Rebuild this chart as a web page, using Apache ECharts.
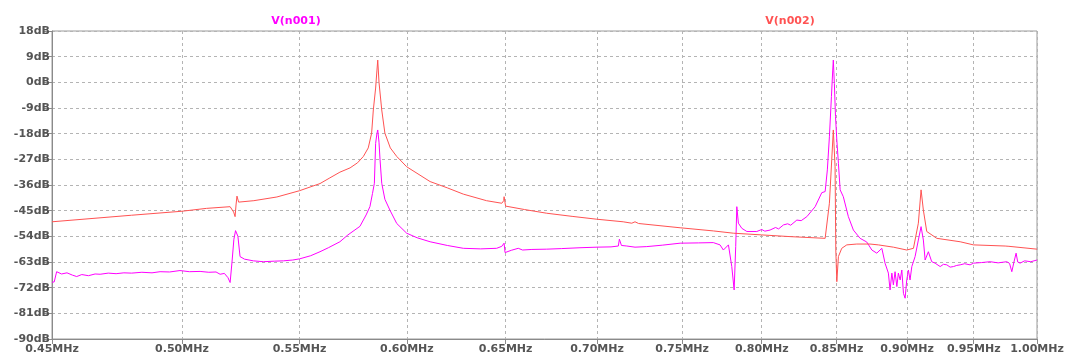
<!DOCTYPE html>
<html>
<head>
<meta charset="utf-8">
<title>V(n001), V(n002)</title>
<script src="https://cdn.jsdelivr.net/npm/echarts@6/dist/echarts.min.js"></script>
<style>
  html, body { margin: 0; padding: 0; background: #fff; }
  #chart { width: 1067px; height: 361px; }
</style>
</head>
<body>
<div id="chart"></div>
<script>
// Frequency ticks (MHz) and magnitude ticks (dB)
const freqTicks = [0.45, 0.50, 0.55, 0.60, 0.65, 0.70, 0.75, 0.80, 0.85, 0.90, 0.95, 1.00];
const dbTicks = [-90, -81, -72, -63, -54, -45, -36, -27, -18, -9, 0, 9, 18];

// V(n001): frequency (MHz) and magnitude (dB)
const n001Freq = [
  0.4500, 0.4508, 0.4517, 0.4535, 0.4555, 0.4575, 0.4591, 0.4610, 0.4635, 0.4660,
  0.4679, 0.4710, 0.4740, 0.4770, 0.4800, 0.4840, 0.4880, 0.4912, 0.4950, 0.4992,
  0.5030, 0.5074, 0.5110, 0.5140, 0.5157, 0.5175, 0.5190, 0.5199, 0.5207, 0.5215,
  0.5222, 0.5227, 0.5232, 0.5241, 0.5260, 0.5298, 0.5341, 0.5390, 0.5428, 0.5470,
  0.5500, 0.5550, 0.5592, 0.5630, 0.5683, 0.5720, 0.5776, 0.5805, 0.5823, 0.5835,
  0.5844, 0.5850, 0.5856, 0.5860, 0.5866, 0.5871, 0.5879, 0.5894, 0.5918, 0.5951,
  0.5999, 0.6050, 0.6114, 0.6200, 0.6281, 0.6370, 0.6453, 0.6480, 0.6492, 0.6497,
  0.6530, 0.6567, 0.6590, 0.6640, 0.6720, 0.6800, 0.6904, 0.7000, 0.7080, 0.7122,
  0.7128, 0.7140, 0.7171, 0.7219, 0.7288, 0.7380, 0.7488, 0.7600, 0.7692, 0.7734,
  0.7755, 0.7787, 0.7808, 0.7823, 0.7833, 0.7840, 0.7850, 0.7872, 0.7904, 0.7968,
  0.8000, 0.8020, 0.8054, 0.8090, 0.8110, 0.8142, 0.8170, 0.8190, 0.8231, 0.8260,
  0.8298, 0.8354, 0.8399, 0.8422, 0.8437, 0.8451, 0.8465,
  0.8474, 0.8478, 0.8485, 0.8493, 0.8502, 0.8513, 0.8525, 0.8547, 0.8582, 0.8617,
  0.8664, 0.8711, 0.8747, 0.8782, 0.8818, 0.8841, 0.8865, 0.8877, 0.8890, 0.8901,
  0.8913, 0.8926, 0.8937, 0.8950, 0.8962, 0.8974, 0.8986, 0.8998, 0.9010, 0.9022,
  0.9035, 0.9059, 0.9083, 0.9103, 0.9120, 0.9133, 0.9157, 0.9182, 0.9207, 0.9245,
  0.9270, 0.9295, 0.9320, 0.9345, 0.9370, 0.9396, 0.9430, 0.9472, 0.9498, 0.9560,
  0.9627, 0.9690, 0.9758, 0.9780, 0.9798, 0.9815, 0.9832, 0.9845, 0.9864, 0.9900,
  0.9950, 1.0000
];
const n001Db = [
  -70.1, -70.0, -66.4, -67.2, -66.8, -67.6, -68.1, -67.4, -67.8, -67.2,
  -67.3, -66.9, -67.1, -66.8, -66.9, -66.6, -66.8, -66.4, -66.5, -66.0,
  -66.4, -66.3, -66.6, -66.5, -67.3, -67.0, -68.5, -70.2, -63.0, -55.0,
  -52.0, -51.8, -54.0, -61.1, -62.0, -62.6, -62.9, -62.7, -62.6, -62.3,
  -61.9, -60.8, -59.4, -58.0, -55.9, -53.5, -50.5, -46.5, -43.6, -39.0,
  -35.4, -21.4, -18.0, -16.7, -21.0, -27.2, -35.4, -41.0, -44.8, -49.5,
  -52.9, -54.5, -55.9, -57.2, -58.2, -58.4, -58.2, -57.5, -56.4, -59.7,
  -58.9, -58.2, -58.8, -58.6, -58.5, -58.3, -58.0, -57.8, -57.7, -57.4,
  -55.0, -57.2, -57.4, -57.8, -57.6, -57.1, -56.4, -56.3, -56.2, -57.0,
  -58.8, -57.0, -64.6, -72.8, -57.6, -43.6, -49.4, -51.2, -52.3, -52.3,
  -51.6, -52.2, -51.8, -50.9, -51.4, -50.0, -49.6, -50.1, -48.3, -48.5,
  -47.1, -43.6, -38.7, -38.3, -30.7, -19.1, -5.0,
  4.3, 7.8, -0.4, -12.0, -20.2, -28.4, -37.7, -40.1, -47.1, -51.8,
  -54.7, -56.0, -58.8, -59.9, -58.2, -63.4, -66.9, -72.8, -66.9, -71.0,
  -66.4, -71.6, -66.9, -69.3, -65.8, -74.0, -75.7, -69.3, -65.8, -69.3,
  -64.6, -61.1, -55.3, -50.6, -55.3, -62.3, -59.4, -62.9, -63.4, -64.6,
  -63.8, -64.0, -64.8, -64.6, -64.2, -64.0, -63.6, -64.0, -63.4, -63.2,
  -62.9, -63.3, -62.9, -63.5, -66.4, -63.0, -59.9, -63.0, -63.4, -62.6,
  -62.9, -62.3
];

// V(n002): frequency (MHz) and magnitude (dB)
const n002Freq = [
  0.4500, 0.4800, 0.5000, 0.5100, 0.5199, 0.5207, 0.5214, 0.5220, 0.5224, 0.5228,
  0.5235, 0.5241, 0.5300, 0.5400, 0.5500, 0.5592, 0.5637, 0.5683, 0.5730, 0.5765,
  0.5792, 0.5815, 0.5831, 0.5839, 0.5850, 0.5856, 0.5860, 0.5866, 0.5879, 0.5894,
  0.5920, 0.5951, 0.5999, 0.6114, 0.6200, 0.6281, 0.6400, 0.6480, 0.6490, 0.6492,
  0.6500, 0.6600, 0.6720, 0.6860, 0.6999, 0.7150, 0.7200, 0.7219, 0.7240, 0.7488,
  0.7692, 0.7818, 0.8000, 0.8186, 0.8422, 0.8433, 0.8451, 0.8467, 0.8478, 0.8490,
  0.8495, 0.8502, 0.8513, 0.8536, 0.8571, 0.8641, 0.8734, 0.8793, 0.8901, 0.8998,
  0.9047, 0.9083, 0.9103, 0.9120, 0.9145, 0.9220, 0.9396, 0.9498, 0.9745, 0.9758,
  0.9775, 1.0000
];
const n002Db = [
  -48.9, -46.6, -45.2, -44.2, -43.6, -43.6, -45.5, -47.1, -43.0, -39.9,
  -42.0, -42.0, -41.5, -40.2, -38.0, -35.5, -33.5, -31.5, -30.0, -28.2,
  -26.0, -23.0, -17.8, -9.7, -2.0, 4.0, 7.8, 0.0, -9.7, -17.8,
  -23.0, -26.0, -29.6, -34.8, -37.0, -39.2, -41.5, -42.4, -41.5, -40.1,
  -43.4, -44.6, -45.9, -47.0, -48.0, -48.9, -49.4, -48.9, -49.5, -51.0,
  -52.1, -52.9, -53.5, -54.1, -54.7, -54.1, -42.4, -27.2, -16.7, -29.6,
  -58.8, -69.9, -61.1, -58.2, -57.0, -56.7, -56.7, -57.0, -57.8, -58.8,
  -58.2, -49.4, -37.7, -44.8, -52.3, -54.7, -55.9, -57.0, -57.4, -56.9,
  -57.5, -58.5
];

const MAGENTA = '#ff00ff';
const RED = '#ff5252';
const FONT = '"DejaVu Sans", sans-serif';

function pairs(xs, ys) {
  return xs.map((x, i) => [x, ys[i]]);
}

const chart = echarts.init(document.getElementById('chart'), null, { renderer: 'canvas' });

chart.setOption({
  animation: false,
  backgroundColor: '#ffffff',
  grid: {
    left: 52, right: 30, top: 31, bottom: 22,
    show: true, borderColor: '#9a9a9a', borderWidth: 1
  },
  graphic: [
    {
      type: 'text', x: 296, y: 21,
      style: { text: 'V(n001)', fill: MAGENTA, font: 'bold 11px ' + FONT, align: 'center', verticalAlign: 'middle' }
    },
    {
      type: 'text', x: 790, y: 21,
      style: { text: 'V(n002)', fill: RED, font: 'bold 11px ' + FONT, align: 'center', verticalAlign: 'middle' }
    }
  ],
  xAxis: {
    type: 'log',
    logBase: 10,
    min: freqTicks[0],
    max: freqTicks[freqTicks.length - 1],
    axisLine: { show: true, onZero: false, lineStyle: { color: '#8a8a8a', width: 1 } },
    axisTick: { show: true, length: 5, customValues: freqTicks, lineStyle: { color: '#8a8a8a' } },
    axisLabel: {
      customValues: freqTicks,
      formatter: v => Number(v).toFixed(2) + 'MHz',
      color: '#555', fontFamily: FONT, fontWeight: 'bold', fontSize: 11, margin: 5
    },
    splitLine: { show: true, lineStyle: { color: '#b4b4b4', type: [3, 3], width: 1 } },
    minorTick: { show: false },
    minorSplitLine: { show: false }
  },
  yAxis: {
    type: 'value',
    min: dbTicks[0],
    max: dbTicks[dbTicks.length - 1],
    interval: 9,
    axisLine: { show: true, onZero: false, lineStyle: { color: '#8a8a8a', width: 1 } },
    axisTick: { show: true, length: 8, lineStyle: { color: '#8a8a8a' } },
    axisLabel: {
      formatter: '{value}dB',
      color: '#555', fontFamily: FONT, fontWeight: 'bold', fontSize: 11, margin: 2
    },
    splitLine: { show: true, lineStyle: { color: '#b4b4b4', type: [3, 3], width: 1 } }
  },
  series: [
    {
      name: 'V(n001)', type: 'line', data: pairs(n001Freq, n001Db),
      showSymbol: false, symbol: 'none', smooth: false,
      lineStyle: { color: MAGENTA, width: 1 }, itemStyle: { color: MAGENTA }, z: 3
    },
    {
      name: 'V(n002)', type: 'line', data: pairs(n002Freq, n002Db),
      showSymbol: false, symbol: 'none', smooth: false,
      lineStyle: { color: RED, width: 1 }, itemStyle: { color: RED }, z: 4
    }
  ]
});
</script>
</body>
</html>
